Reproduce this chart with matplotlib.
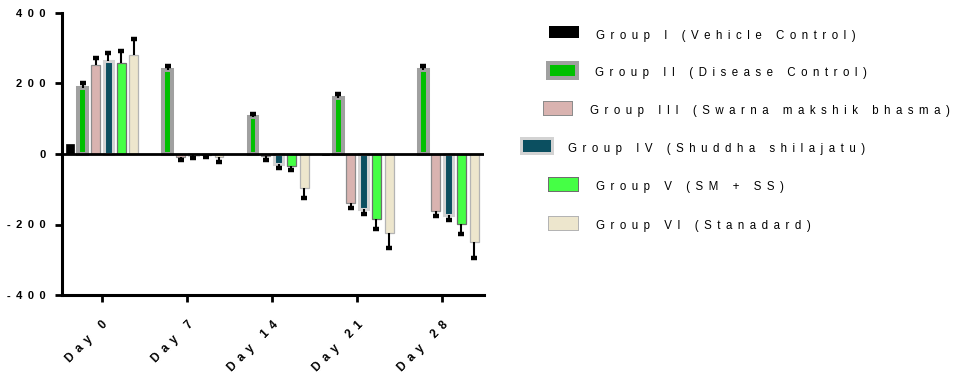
import numpy as np
import matplotlib.pyplot as plt
from matplotlib.patches import Rectangle

days = ['Day 0', 'Day 7', 'Day 14', 'Day 21', 'Day 28']
groups = ['Group I (Vehicle Control)', 'Group II (Disease Control)',
          'Group III (Swarna makshik bhasma)', 'Group IV (Shuddha shilajatu)',
          'Group V (SM + SS)', 'Group VI (Stanadard)']

g1 = [28, 0, 0, -3, 0]
g2 = [187, 238, 105, 159, 238]
g3 = [252, -8, -7, -139, -162]
g4 = [264, -4, -28, -155, -172]
g5 = [258, -3, -33, -184, -199]
g6 = [281, -8, -97, -224, -250]

e1 = [0, 0, 0, 0, 0]
e2 = [13, 12, 9, 11, 13]
e3 = [21, 9, 9, 14, 14]
e4 = [22, 7, 13, 16, 16]
e5 = [34, 6, 12, 29, 28]
e6 = [45, 15, 28, 43, 45]

means = [g1, g2, g3, g4, g5, g6]
errs = [e1, e2, e3, e4, e5, e6]

# face, edge, edge width (pt)
styles = [('#000000', '#000000', 0.5),
          ('#00c000', '#a0a0a0', 2.9),
          ('#d9b3b0', '#8c8c8c', 0.9),
          ('#0b4f60', '#d3d3d3', 2.2),
          ('#45ff45', '#6e6e6e', 0.9),
          ('#ede6cd', '#b4b4b4', 0.9)]

plt.rcParams['font.family'] = ['Liberation Sans', 'DejaVu Sans']

def spaced(s):
    # wide letter spacing: normal space plus a thin space between characters
    return ' \u2009'.join(s)

fig = plt.figure(figsize=(9.62, 3.74), dpi=100)
ax = fig.add_axes([62/962, 79/374, 422/962, 282/374])

x = np.arange(len(days))
step = 0.15
width = 0.105
for i in range(6):
    pos = x + (i - 2.5) * step
    face, edge, lw = styles[i]
    w = 0.085 if i == 0 else width
    ax.bar(pos, means[i], width=w, color=face, edgecolor=edge, linewidth=lw, zorder=2)
    # one-sided error bars pointing away from zero
    m = np.array(means[i], dtype=float)
    e = np.array(errs[i], dtype=float)
    keep = e > 0
    tips = np.where(m < 0, m - e, m + e)
    ax.vlines(pos[keep], m[keep], tips[keep], color='black', lw=1.5, zorder=3)
    ax.plot(pos[keep], tips[keep], ls='none', marker='_', ms=4, mew=3.2,
            color='black', zorder=3)

ax.axhline(0, color='black', lw=2, zorder=4)

ax.set_xlim(-0.47, 4.49)
ax.set_ylim(-400, 400)
ax.set_yticks([-400, -200, 0, 200, 400])
ax.set_yticklabels([spaced(str(v)) for v in [-400, -200, 0, 200, 400]],
                   fontsize=8, fontweight='bold')
ax.set_xticks(x)
ax.set_xticklabels([spaced(d) for d in days], fontsize=8.5, fontweight='bold',
                   rotation=45, ha='right', rotation_mode='anchor')
for s in ['top', 'right']:
    ax.spines[s].set_visible(False)
for s in ['left', 'bottom']:
    ax.spines[s].set_linewidth(2.2)
ax.tick_params(axis='both', direction='out', length=5, width=2)
ax.tick_params(axis='y', pad=7)
ax.tick_params(axis='x', pad=12)

# legend drawn by hand in pixel coordinates
lax = fig.add_axes([0, 0, 1, 1])
lax.set_xlim(0, 962)
lax.set_ylim(374, 0)
lax.axis('off')

leg = [
    # (x0, x1, yc, h, border px, text x, text y)
    (549, 579, 32, 12, 0, 596, 36),
    (546, 579, 70, 19, 4, 595, 73),
    (543, 573, 108, 15, 1, 590, 111),
    (520, 554, 146, 18, 3, 568, 149),
    (548, 579, 184, 15, 1, 596, 187),
    (548, 579, 223, 15, 1, 596, 226),
]
for i, (x0, x1, yc, h, b, tx, ty) in enumerate(leg):
    face, edge, lw = styles[i]
    y0 = yc - h / 2
    if b == 0:
        lax.add_patch(Rectangle((x0, y0), x1 - x0, h, facecolor=face, edgecolor='none'))
    else:
        lax.add_patch(Rectangle((x0, y0), x1 - x0, h, facecolor=edge, edgecolor='none'))
        lax.add_patch(Rectangle((x0 + b, y0 + b), x1 - x0 - 2 * b, h - 2 * b,
                                facecolor=face, edgecolor='none'))
    lax.text(tx, ty, spaced(groups[i]), fontsize=8.3, ha='left', va='center')

fig.savefig('out.png', dpi=100)
